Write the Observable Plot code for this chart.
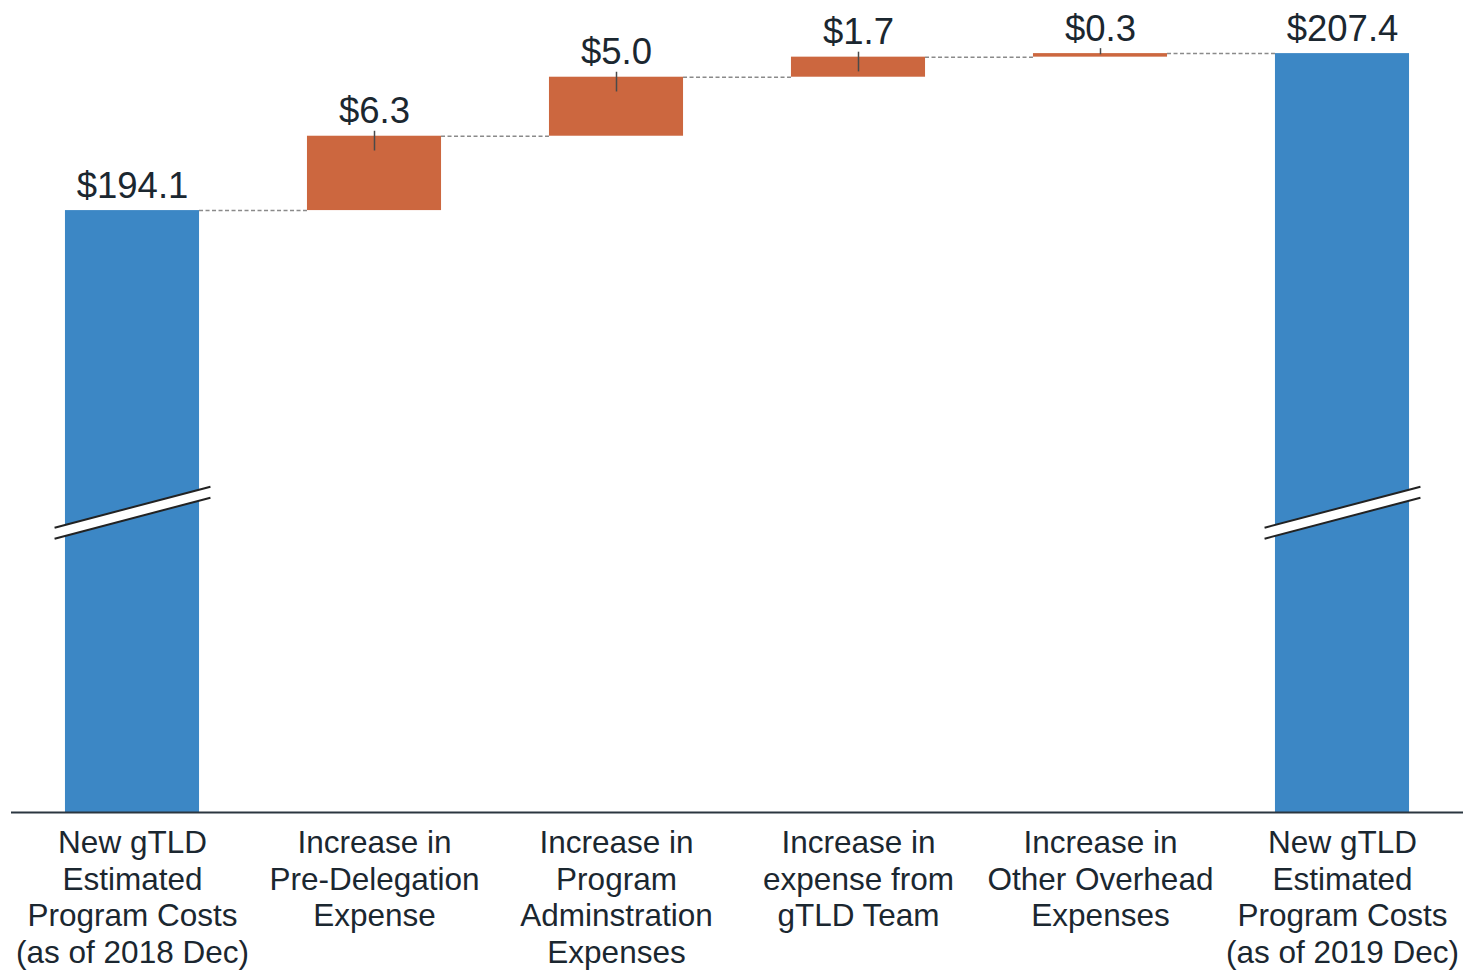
<!DOCTYPE html>
<html>
<head>
<meta charset="utf-8">
<script src="https://cdn.jsdelivr.net/npm/d3@7"></script>
<script src="https://cdn.jsdelivr.net/npm/@observablehq/plot@0.6"></script>
<style>
  html, body { margin: 0; padding: 0; background: #fff; }
  #chart svg { display: block; }
</style>
</head>
<body>
<div id="chart"></div>
<script>
// ---- data ----
const categories = [
  "New gTLD\nEstimated\nProgram Costs\n(as of 2018 Dec)",
  "Increase in\nPre-Delegation\nExpense",
  "Increase in\nProgram\nAdminstration\nExpenses",
  "Increase in\nexpense from\ngTLD Team",
  "Increase in\nOther Overhead\nExpenses",
  "New gTLD\nEstimated\nProgram Costs\n(as of 2019 Dec)"
];
const amounts = [194.1, 6.3, 5.0, 1.7, 0.3, 207.4];
const kinds = ["total", "increase", "increase", "increase", "increase", "total"];
const valueLabels = ["$194.1", "$6.3", "$5.0", "$1.7", "$0.3", "$207.4"];

// axis break settings (the y axis does not start at zero)
const baseValue = 143.1;
const topValue = 211.9;
const breakValue = 168.5;

// ---- build waterfall table ----
let running = 0;
const rows = categories.map((c, i) => {
  let start, end;
  if (kinds[i] === "total") { start = baseValue; end = amounts[i]; running = amounts[i]; }
  else { start = running; end = running + amounts[i]; running = end; }
  return { i, category: c, kind: kinds[i], start, end, label: valueLabels[i] };
});
const half = 0.277;
const connectors = rows.slice(0, -1).map((r, k) => ({ x1: r.i + half, x2: rows[k + 1].i - half, y: r.end }));
const increases = rows.filter(r => r.kind === "increase");
const totals = rows.filter(r => r.kind === "total");
const breaks = totals.map(r => ({ x1: r.i - 0.322, x2: r.i + 0.322, y1: breakValue - 1.74, y2: breakValue + 1.74 }));

const blue = "#3c87c5";
const orange = "#cc673f";
const ink = "#1b2730";

const chart = Plot.plot({
  width: 1468,
  height: 970,
  marginLeft: 11,
  marginRight: 5,
  marginTop: 0,
  marginBottom: 158,
  x: { type: "linear", domain: [-0.5, 5.5], axis: null },
  y: { domain: [baseValue, topValue], axis: null },
  style: { fontFamily: "'Liberation Sans', Arial, sans-serif", background: "#fff" },
  marks: [
    Plot.ruleY(connectors, { x1: "x1", x2: "x2", y: "y", stroke: "#8a8a8a", strokeWidth: 1.5, strokeDasharray: "4,2.5" }),
    Plot.rectY(rows, { x1: d => d.i - half, x2: d => d.i + half, y1: "start", y2: "end", fill: d => d.kind === "total" ? blue : orange }),
    Plot.ruleX(increases, { x: "i", y1: d => d.end + 0.42, y2: d => Math.max(d.start + 0.2, d.end - 1.25), stroke: "#4a4a4a", strokeWidth: 1.5 }),
    // axis break marks
    Plot.link(breaks, { x1: "x1", x2: "x2", y1: "y1", y2: "y2", stroke: "#fff", strokeWidth: 10.5 }),
    Plot.link(breaks, { x1: "x1", x2: "x2", y1: "y1", y2: "y2", stroke: "#222", strokeWidth: 2, dy: -5.5 }),
    Plot.link(breaks, { x1: "x1", x2: "x2", y1: "y1", y2: "y2", stroke: "#222", strokeWidth: 2, dy: 5.5 }),
    Plot.ruleY([baseValue], { stroke: "#2b3640", strokeWidth: 2 }),
    Plot.text(rows, { x: "i", y: "end", text: "label", lineAnchor: "bottom", dy: -13, fontSize: 36.5, fill: ink }),
    Plot.text(rows, { x: "i", y: () => baseValue, text: "category", lineAnchor: "top", dy: 14, fontSize: 31.5, lineHeight: 1.17, fill: ink })
  ]
});
document.getElementById("chart").appendChild(chart);
</script>
</body>
</html>
